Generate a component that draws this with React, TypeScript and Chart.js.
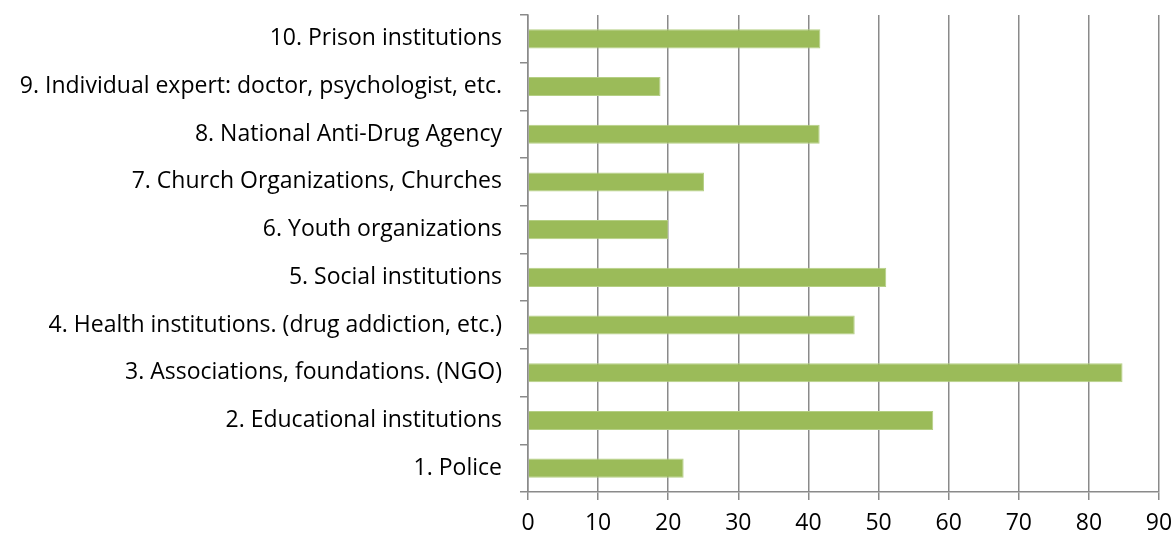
import React, { useEffect, useRef } from "react";
import { Chart, registerables } from "chart.js";

Chart.register(...registerables);

const categories = [
  "10. Prison institutions",
  "9. Individual expert: doctor, psychologist, etc.",
  "8. National Anti-Drug Agency",
  "7. Church Organizations, Churches",
  "6. Youth organizations",
  "5. Social institutions",
  "4. Health institutions. (drug addiction, etc.)",
  "3. Associations, foundations. (NGO)",
  "2. Educational institutions",
  "1. Police",
];
const values = [41.7, 18.9, 41.6, 25.1, 20.0, 51.1, 46.6, 84.8, 57.8, 22.2];
const xMin = 0;
const xMax = 90;
const xStep = 10;

export default function App() {
  const ref = useRef<HTMLCanvasElement | null>(null);
  useEffect(() => {
    document.body.style.margin = "0";
    const ctx = ref.current!;
    const font = { family: "'Open Sans', sans-serif", size: 23 };
    const chart = new Chart(ctx, {
      type: "bar",
      data: {
        labels: categories,
        datasets: [
          {
            data: values,
            backgroundColor: "#9BBB59",
            borderColor: "#B5CF85",
            borderWidth: 1,
            barPercentage: 0.4,
            categoryPercentage: 1,
          },
        ],
      },
      options: {
        indexAxis: "y",
        responsive: false,
        animation: false,
        layout: { padding: { top: 15, right: 17, left: 0, bottom: 0 } },
        plugins: { legend: { display: false }, tooltip: { enabled: false } },
        scales: {
          x: {
            min: xMin,
            max: xMax,
            ticks: { stepSize: xStep, color: "#000", font, padding: 10 },
            grid: {
              color: "#8a8a8a",
              lineWidth: 1.5,
              tickLength: 8,
              tickColor: "#8a8a8a",
            },
            border: { color: "#8a8a8a", width: 1.5 },
            afterFit: (s: any) => {
              s.height = 44;
              s.paddingLeft = 0;
              s.paddingRight = 0;
            },
          },
          y: {
            ticks: { color: "#000", font, padding: 18, autoSkip: false },
            grid: {
              drawOnChartArea: false,
              tickLength: 8,
              color: "#8a8a8a",
              tickColor: "#8a8a8a",
              lineWidth: 1.5,
            },
            border: { color: "#8a8a8a", width: 1.5 },
            afterFit: (s: any) => {
              s.width = 528;
              s.paddingTop = 0;
              s.paddingBottom = 0;
            },
          },
        },
      },
    });
    return () => chart.destroy();
  }, []);
  return (
    <div style={{ width: 1176, height: 536 }}>
      <canvas ref={ref} width={1176} height={536} />
    </div>
  );
}
